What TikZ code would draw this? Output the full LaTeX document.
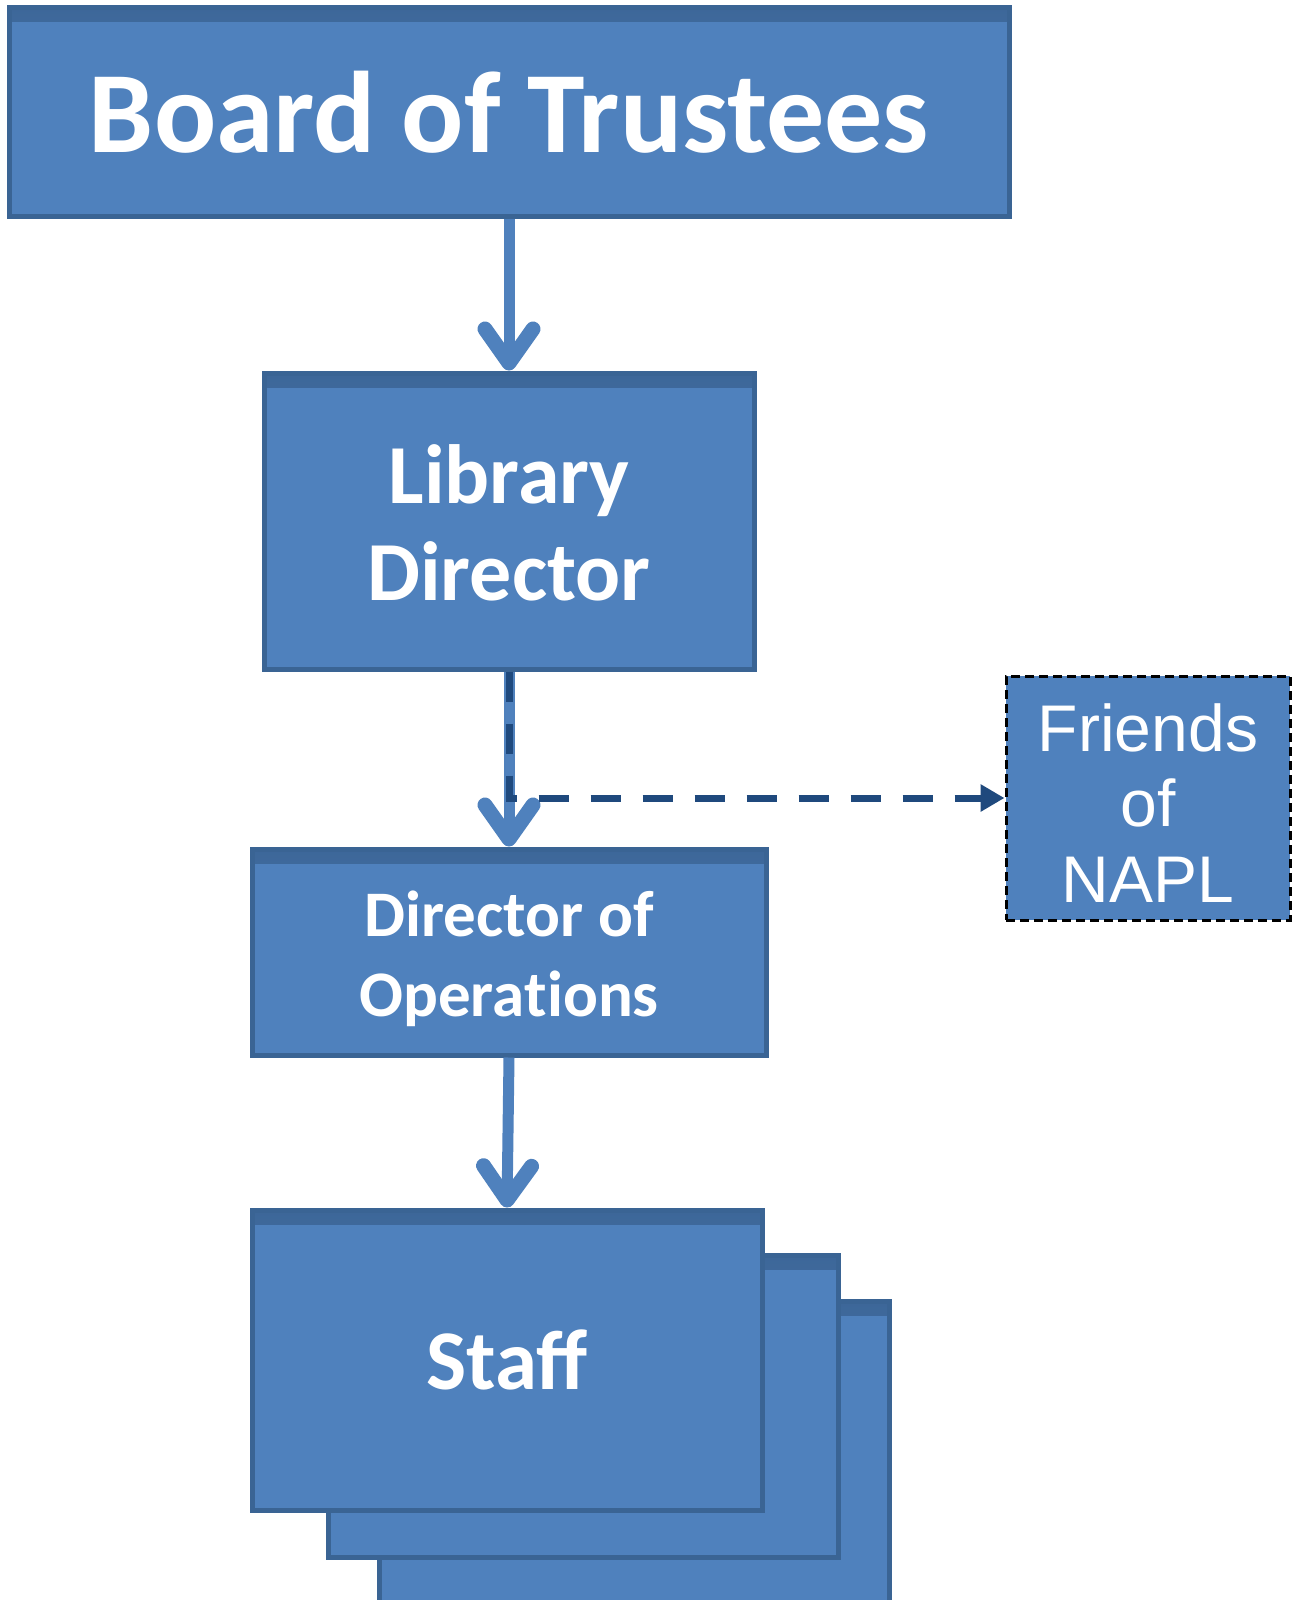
\documentclass[tikz,border=0pt]{standalone}
\usepackage{fontspec}
\setmainfont{Carlito}
\newfontfamily\arialf{Liberation Sans}
\usetikzlibrary{arrows.meta}
\definecolor{boxfill}{HTML}{4F81BD}
\definecolor{boxline}{HTML}{3A6494}
\definecolor{boxdark}{HTML}{3D6799}
\definecolor{navy}{HTML}{1F497D}
\tikzset{
  orgbox/.style={draw=boxline, line width=5pt, fill=boxfill, text=white, align=center,
    inner sep=0pt,
    path picture={\fill[top color=boxdark, bottom color=boxfill]
      (path picture bounding box.north west) rectangle ([yshift=-14pt]path picture bounding box.north east);}},
  friendbox/.style={draw=black, line width=3pt, dash pattern=on 9pt off 5pt, fill=boxfill,
    text=white, align=center, inner sep=0pt},
  solidarrow/.style={draw=boxfill, line width=11pt,
    -{Straight Barb[length=34pt,width=48pt,line width=15pt,round]}},
  dasharrow/.style={draw=navy, line width=7pt, dash pattern=on 30pt off 22pt,
    -{Triangle[length=24pt,width=26pt]}},
}
\begin{document}
\begin{tikzpicture}[x=1pt,y=-1pt]
\useasboundingbox (0,0) rectangle (1298,1600);
\fill[white] (0,0) rectangle (1298,1600);

\node[orgbox, minimum width=1000pt, minimum height=208pt,
  font=\fontsize{116}{120}\selectfont\bfseries] (board) at (509,112)
  {Board of Trustees};
\node[orgbox, minimum width=490pt, minimum height=296pt,
  font=\fontsize{84}{97}\selectfont\bfseries] (lib) at (509,521)
  {\raisebox{-2pt}[\height][\depth]{\parbox{480pt}{\centering Library\\Director}}};
\node[orgbox, minimum width=514pt, minimum height=206pt,
  font=\fontsize{65}{80}\selectfont\bfseries] (ops) at (509,952)
  {\raisebox{-7pt}[\height][\depth]{\parbox{500pt}{\centering Director of\\Opera\kern0pt t\kern0pt ions}}};
\node[orgbox, minimum width=510pt, minimum height=302pt] (staff3) at (634,1452) {};
\node[orgbox, minimum width=510pt, minimum height=302pt] (staff2) at (583,1406) {};
\node[orgbox, minimum width=510pt, minimum height=300pt,
  font=\fontsize{85}{90}\selectfont\bfseries] (staff) at (507,1360)
  {Staff};
\node[friendbox, minimum width=284pt, minimum height=244pt,
  font=\arialf\fontsize{66}{75.5}\selectfont] (friends) at (1148,798)
  {\raisebox{-5pt}[\height][\depth]{\parbox{280pt}{\centering Friends\\of\\NAPL}}};

\coordinate (bend) at (lib.south |- friends.west);

\draw[solidarrow] (board.south) -- (lib.north);
\draw[solidarrow] (lib.south) -- (ops.north);
\draw[solidarrow] (ops.south) -- (staff.north);
\draw[dasharrow] (lib.south) -- (bend) -- (friends.west);
\end{tikzpicture}
\end{document}
